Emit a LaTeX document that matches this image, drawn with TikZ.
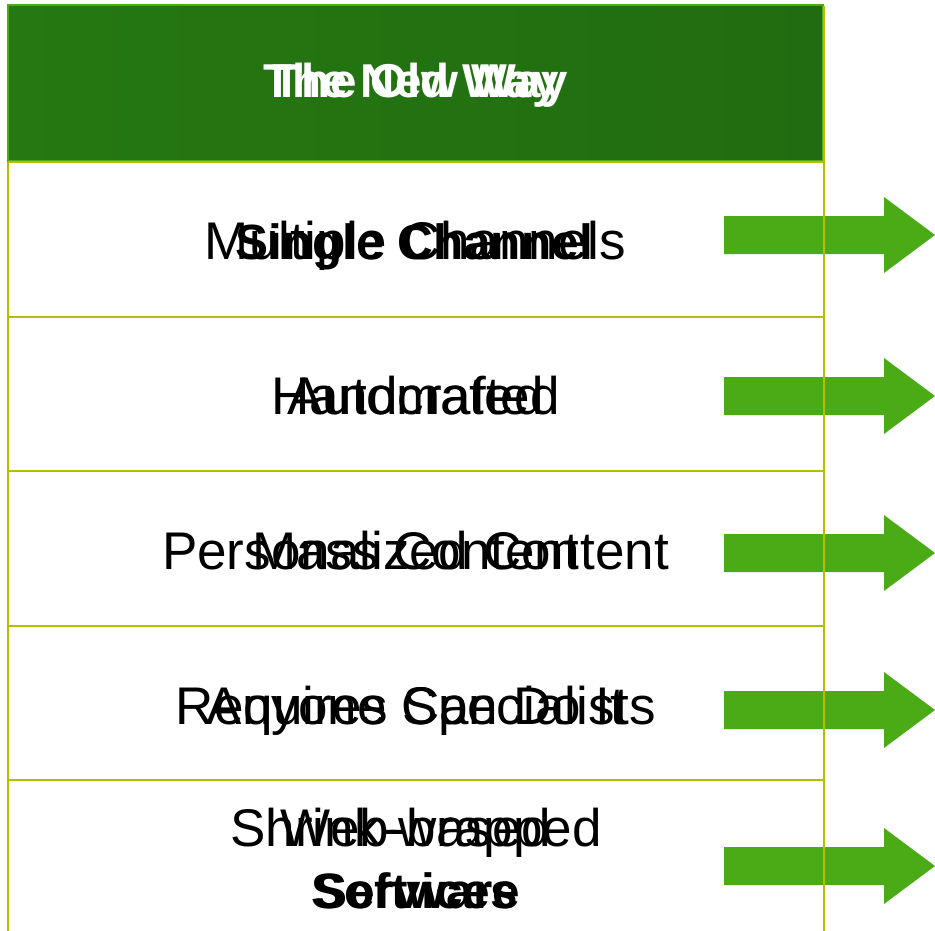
\documentclass[tikz,border=0pt]{standalone}
\usepackage{fontspec}
\setmainfont{Liberation Sans}
\definecolor{hdrfill}{RGB}{37,120,18}
\definecolor{hdredge}{RGB}{74,171,23}
\definecolor{arrowgreen}{RGB}{74,171,23}
\definecolor{gridline}{RGB}{180,190,0}
\tikzset{
  regtext/.style={anchor=base, inner sep=0pt, font=\fontsize{53}{62}\selectfont, text=black},
  boldtext/.style={anchor=base, inner sep=0pt, font=\fontsize{49.5}{62}\selectfont\bfseries, text=black},
  hdrtext/.style={anchor=base, inner sep=0pt, font=\fontsize{47.5}{56}\selectfont\bfseries, text=white},
  grid/.style={draw=gridline, line width=2pt},
  fatarrow/.style={fill=arrowgreen, draw=none},
}
\newcommand{\fatarrowat}[1]{%
  \fill[fatarrow] (724,#1-19) -- (884,#1-19) -- (884,#1-38) -- (935,#1) -- (884,#1+38) -- (884,#1+19) -- (724,#1+19) -- cycle;}
\begin{document}
\begin{tikzpicture}[x=1pt,y=-1pt]
\useasboundingbox (0,0) rectangle (935,931);
\fill[white] (0,0) rectangle (935,931);
% arrows
\fatarrowat{235}
\fatarrowat{396}
\fatarrowat{553}
\fatarrowat{710}
\fatarrowat{866}
% header
\shade[left color=hdrfill, right color=hdrfill!90!black] (8,5) rectangle (823,161);
\draw[hdredge, line width=2.5pt] (8,5) rectangle (823,161);
% grid lines
\draw[grid] (8,162) -- (8,931);
\draw[grid] (824,6) -- (824,931);
\draw[grid] (8,162) -- (824,162);
\draw[grid] (8,317) -- (824,317);
\draw[grid] (8,471) -- (824,471);
\draw[grid] (8,626) -- (824,626);
\draw[grid] (8,780) -- (824,780);
% header texts
\node[hdrtext] (hold) at (415.5,98) {The Old Way};
\node[hdrtext] (hnew) at (415.5,98) {The New Way};
% row 1
\node[regtext] (r1a) at (415.5,259) {Multiple Channels};
\node[boldtext] (r1b) at (414,259) {Single Channel};
% row 2
\node[regtext] (r2a) at (415.5,414) {Handcrafted};
\node[regtext] (r2b) at (415.5,414) {Automated};
% row 3
\node[regtext] (r3a) at (415.5,569) {Personalized Content};
\node[regtext] (r3b) at (415.5,569) {Mass Content};
% row 4
\node[regtext] (r4a) at (416,724) {Requires Specialists};
\node[regtext] (r4b) at (416,724) {Anyone Can Do It};
% row 5
\node[regtext] (r5a1) at (416,846) {Shrink-wrapped};
\node[boldtext] (r5a2) at (416,908) {Software};
\node[regtext] (r5b1) at (416,846) {Web-based};
\node[boldtext] (r5b2) at (416,908) {Services};
\end{tikzpicture}
\end{document}
